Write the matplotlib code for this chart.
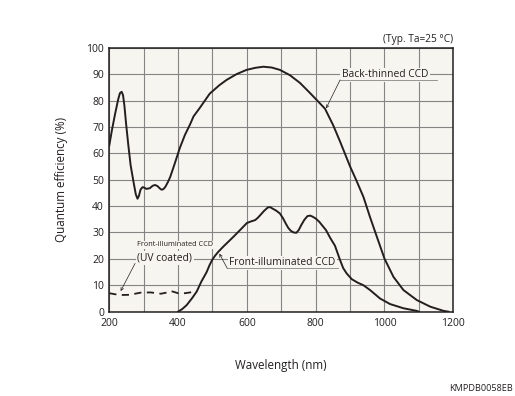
import matplotlib
matplotlib.use("Agg")
import matplotlib.pyplot as plt

plt.rcParams['font.family'] = ['Open Sans', 'DejaVu Sans']

# ---- data ----
bt_wl = [200, 208, 217, 226, 231, 236, 240, 244, 249, 255, 262, 270, 277, 282, 286,
         291, 297, 303, 308, 318, 326, 333, 340, 346, 352, 357, 363, 370, 377, 390,
         405, 420, 435, 445, 462, 477, 492, 520, 541, 570, 599, 625, 648, 672, 696,
         725, 754, 780, 800, 827, 851, 871, 900, 919, 939, 958, 978, 1000, 1026, 1055,
         1094, 1133, 1172, 1186]
bt_qe = [63, 69, 75, 80.5, 82.8, 83.3, 82, 78, 71, 63.5, 55.5, 49.5, 44.5, 42.8, 43.8,
         46.3, 47.2, 46.9, 46.5, 46.8, 47.7, 48, 47.6, 46.8, 46.2, 46.4, 47.3, 49, 51, 56,
         62, 67, 71, 74, 77, 79.8, 82.6, 85.8, 87.8, 90, 91.6, 92.4, 92.8, 92.5, 91.6,
         89.6, 86.7, 83.3, 80.6, 76.9, 70.6, 64.4, 55, 49.5, 43.4, 35.8, 28.3, 20.1, 13.2, 8.2,
         4.4, 1.9, 0.3, 0]

fi_wl = [400, 412, 425, 440, 454, 468, 483, 492, 500, 508, 517, 531, 546, 561, 580,
         600, 612, 624, 632, 639, 650, 661, 668, 674, 685, 696, 705, 713, 720, 727,
         736, 744, 751, 758, 767, 776, 784, 791, 800, 810, 830, 842, 856, 871, 880,
         890, 905, 922, 939, 958, 987, 1016, 1055, 1094, 1100]
fi_qe = [0, 1, 2.5, 5, 7.6, 11.5, 15, 17.8, 19.8, 21.3, 22.7, 24.6, 26.5, 28.4, 30.9,
         33.6, 34.2, 34.7, 35.6, 36.6, 38.2, 39.5, 39.6, 39.1, 38.3, 37.2, 35.4, 33.4, 31.8, 30.7,
         30, 29.9, 31, 32.8, 34.8, 36.2, 36.4, 36, 35.3, 34.1, 30.9, 28, 25, 19.5, 16.5,
         14.5, 12.3, 11, 10, 8.2, 5, 2.9, 1.3, 0.3, 0]

uv_wl = [200, 230, 260, 290, 320, 350, 365, 380, 400, 420, 440, 455]
uv_qe = [7.0, 6.3, 6.4, 7.2, 7.3, 6.8, 7.2, 7.8, 7.0, 7.0, 7.4, 7.6]

x_ticks = [200, 400, 600, 800, 1000, 1200]
y_ticks = [0, 10, 20, 30, 40, 50, 60, 70, 80, 90, 100]

INK = '#231f20'
BG = '#f7f5ef'
GRID = '#858585'

fig = plt.figure(figsize=(5.15, 3.96), dpi=100)
ax = fig.add_axes([0.2122, 0.2129, 0.668, 0.6666])
ax.set_facecolor(BG)

ax.set_xlim(200, 1200)
ax.set_ylim(0, 100)
ax.set_xticks(x_ticks)
ax.set_xticks(range(300, 1200, 200), minor=True)
ax.set_yticks(y_ticks)
ax.grid(True, which='both', color=GRID, lw=0.8)
ax.set_axisbelow(True)
ax.tick_params(which='both', length=0, labelsize=7.5, colors=INK)
ax.tick_params(axis='x', pad=4.8)
ax.tick_params(axis='y', pad=3.8)
for s in ax.spines.values():
    s.set_color(INK)
    s.set_linewidth(1.1)

ax.plot(bt_wl, bt_qe, color=INK, lw=1.4, zorder=4, solid_joinstyle='round')
ax.plot(fi_wl, fi_qe, color=INK, lw=1.4, zorder=4, solid_joinstyle='round')
ax.plot(uv_wl, uv_qe, color=INK, lw=1.3, ls=(0, (4, 3)), zorder=4)

tbox = dict(facecolor=BG, edgecolor='none', pad=1.0)
arrow = dict(arrowstyle='->', color=INK, lw=0.5, shrinkA=0, shrinkB=0,
             mutation_scale=5)

# Back-thinned label
ax.text(876, 89.8, 'Back-thinned CCD', fontsize=7.4, color=INK, va='center',
        ha='left', bbox=tbox, zorder=3)
ax.plot([871, 1152], [87.8, 87.8], color=GRID, lw=0.6, zorder=3)
ax.annotate('', xy=(830, 77), xytext=(871, 87.8), arrowprops=arrow, zorder=5)

# Front-illuminated label
ax.text(549, 18.6, 'Front-illuminated CCD', fontsize=7.4, color=INK, va='center',
        ha='left', bbox=tbox, zorder=3)
ax.plot([543, 866], [16.4, 16.4], color=GRID, lw=0.6, zorder=3)
ax.annotate('', xy=(520, 22), xytext=(543, 16.4), arrowprops=arrow, zorder=5)

# UV coated label
ax.text(282, 25.3, 'Front-illuminated CCD', fontsize=5.3, color=INK, va='center',
        ha='left', bbox=dict(facecolor=BG, edgecolor='none', pad=0.5), zorder=3)
ax.text(282, 20.2, '(UV coated)', fontsize=7.4, color=INK, va='center',
        ha='left', bbox=tbox, zorder=3)
ax.annotate('', xy=(233, 7.8), xytext=(275, 18.3), arrowprops=arrow, zorder=5)

fig.text(0.8802, 0.899, '(Typ. Ta=25 \u00b0C)', fontsize=7.3, color=INK,
         ha='right', va='center')
fig.text(0.545, 0.078, 'Wavelength (nm)', fontsize=8.4, color=INK,
         ha='center', va='center')
fig.text(0.12, 0.546, 'Quantum efficiency (%)', fontsize=8.4, color=INK,
         ha='center', va='center', rotation=90)
fig.text(0.996, 0.02, 'KMPDB0058EB', fontsize=6.6, color=INK,
         ha='right', va='center')

fig.savefig('out.png', dpi=100)
